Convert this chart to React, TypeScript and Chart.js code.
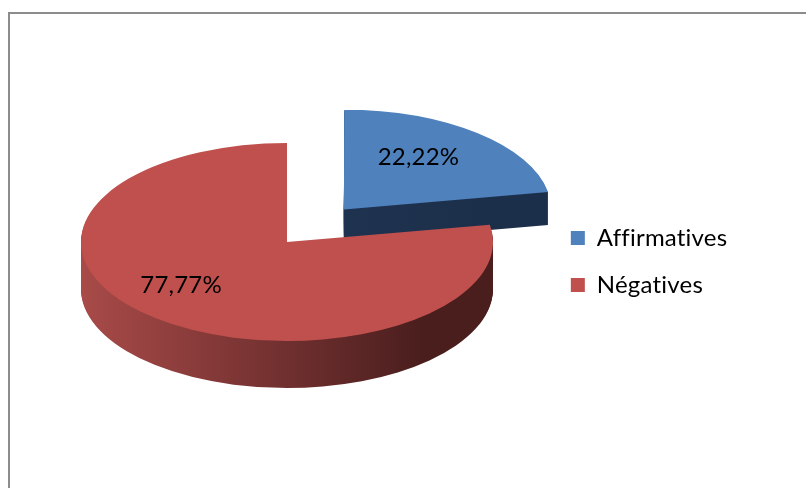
import React, { useEffect, useRef } from 'react';
import { Chart, registerables } from 'chart.js';

Chart.register(...registerables);

// ---- data ----
const categories = ['Affirmatives', 'Négatives'];
const values = [22.22, 77.77];
const topColors = ['#4f81bd', '#c0504d'];
const sideStart = ['#22395a', '#a94b49'];
const sideEnd = ['#1c2f4a', '#4b1e1e'];

// ---- style / layout of the tilted pie ----
const FONT = 'Lato, "Noto Sans", sans-serif';
const CX = 287;
const CY = 242;
const RX = 206;
const RY = 99;
const DEPTH = [33, 47];
const EXPLODE = [0.43, 0];
const LABEL_FX = [0.556, 0.8];
const LABEL_FY = [0.686, 0.57];
const GRAD_X0 = 78;
const GRAD_X1 = 420;

const fmt = (v: number) => v.toFixed(2).replace('.', ',') + '%';

function shiftOf(el: any) {
  const o = (el.options && el.options.offset) || 0;
  const circ = el.circumference || 0;
  const fix = 1 - Math.sin(Math.min(Math.PI, circ));
  const t = (o / 4) * (1 + fix);
  const half = (el.startAngle + el.endAngle) / 2;
  return { t, half };
}

const noLigatures = {
  id: 'noLigatures',
  beforeDraw(chart: any) {
    (chart.ctx as any).letterSpacing = '0.2px';
  },
};

const pie3d = {
  id: 'pie3d',
  beforeDatasetsDraw(chart: any) {
    const meta = chart.getDatasetMeta(0);
    const arcs = meta.data;
    if (!arcs.length) return;
    const ctx = chart.ctx;
    const R = arcs[0].outerRadius;
    const cx = arcs[0].x;
    const cy = arcs[0].y;
    const sx = RX / R;
    const sy = RY / R;
    const ux = (X: number) => cx + (X - CX) / sx;
    arcs.forEach((el: any, i: number) => {
      const grad = ctx.createLinearGradient(ux(GRAD_X0), 0, ux(GRAD_X1), 0);
      grad.addColorStop(0, sideStart[i]);
      grad.addColorStop(1, sideEnd[i]);
      const orig = el.options;
      el.options = { ...orig, backgroundColor: grad, borderWidth: 0 };
      for (let d = DEPTH[i]; d >= 1; d--) {
        ctx.save();
        ctx.translate(CX, CY + d);
        ctx.scale(sx, sy);
        ctx.translate(-cx, -cy);
        el.draw(ctx);
        ctx.restore();
      }
      el.options = orig;
    });
    ctx.save();
    ctx.translate(CX, CY);
    ctx.scale(sx, sy);
    ctx.translate(-cx, -cy);
  },
  afterDatasetsDraw(chart: any) {
    const meta = chart.getDatasetMeta(0);
    const arcs = meta.data;
    if (!arcs.length) return;
    const ctx = chart.ctx;
    ctx.restore();
    const R = arcs[0].outerRadius;
    const sx = RX / R;
    const sy = RY / R;
    ctx.save();
    ctx.fillStyle = '#000';
    ctx.font = `24px ${FONT}`;
    ctx.textAlign = 'center';
    ctx.textBaseline = 'middle';
    arcs.forEach((el: any, i: number) => {
      const { t, half } = shiftOf(el);
      const Sx = CX + sx * Math.cos(half) * t;
      const Sy = CY + sy * Math.sin(half) * t;
      const lx = Sx + Math.cos(half) * LABEL_FX[i] * RX;
      const ly = Sy + Math.sin(half) * LABEL_FY[i] * RY;
      ctx.fillText(fmt(values[i]), lx, ly);
    });
    ctx.restore();
  },
};

export default function App() {
  const ref = useRef<HTMLCanvasElement>(null);
  useEffect(() => {
    if (!ref.current) return;
    const chart = new Chart(ref.current, {
      type: 'pie',
      data: {
        labels: categories,
        datasets: [
          {
            data: values,
            backgroundColor: topColors,
            borderWidth: 0,
            hoverOffset: 0,
            clip: false as any,
            offset: (c: any) => {
              const area = c.chart.chartArea;
              if (!area) return 0;
              const m = Math.min(area.width, area.height);
              const k = 2 * EXPLODE[c.dataIndex];
              return (k * m) / (1 + k);
            },
          } as any,
        ],
      },
      options: {
        responsive: false,
        animation: false,
        events: [],
        layout: { padding: { top: 35, right: 72, bottom: 0, left: 0 } },
        plugins: {
          tooltip: { enabled: false },
          legend: {
            position: 'right',
            align: 'center',
            labels: {
              boxWidth: 14,
              boxHeight: 14,
              padding: 23,
              color: '#000',
              font: { family: FONT, size: 24 },
            },
          },
        },
      } as any,
      plugins: [noLigatures, pie3d],
    });
    return () => chart.destroy();
  }, []);
  return (
    <div style={{ position: 'fixed', left: 0, top: 0, width: 806, height: 488, overflow: 'hidden', background: '#fff' }}>
      <canvas ref={ref} width={806} height={488} style={{ display: 'block' }} />
      <div
        style={{
          position: 'absolute',
          left: 8,
          top: 12,
          width: 900,
          height: 700,
          borderTop: '2px solid #8c8c8c',
          borderLeft: '2px solid #8c8c8c',
          pointerEvents: 'none',
        }}
      />
    </div>
  );
}
